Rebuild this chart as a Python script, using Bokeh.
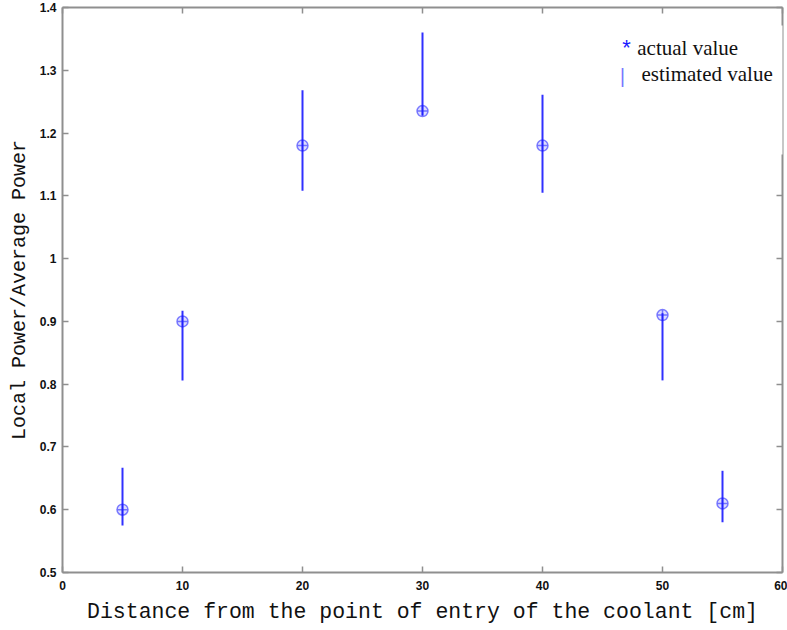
from bokeh.plotting import figure
from bokeh.models import LinearAxis, FixedTicker, Label, Range1d, CustomLabelingPolicy
from bokeh.embed import file_html
from bokeh.resources import INLINE

# ---- data ----
positions = [5, 10, 20, 30, 40, 50, 55]
actual = [0.60, 0.90, 1.18, 1.235, 1.18, 0.91, 0.61]
est_low = [0.575, 0.806, 1.108, 1.228, 1.105, 0.806, 0.58]
est_high = [0.667, 0.917, 1.268, 1.36, 1.261, 0.913, 0.662]

x_ticks = [0, 10, 20, 30, 40, 50, 60]
y_ticks = [0.5, 0.6, 0.7, 0.8, 0.9, 1.0, 1.1, 1.2, 1.3, 1.4]
y_tick_labels = ["0.5", "0.6", "0.7", "0.8", "0.9", "1", "1.1", "1.2", "1.3", "1.4"]
legend_labels = ["actual value", "estimated value"]

AX = "#8f8f8f"
BLUE = "#1a1aff"

p = figure(width=787, height=630, x_range=Range1d(0, 60), y_range=Range1d(0.5, 1.4),
           output_backend="svg", toolbar_location=None,
           min_border_left=62, min_border_right=5, min_border_top=7, min_border_bottom=58)
p.outline_line_color = None
p.xgrid.visible = False
p.ygrid.visible = False
p.background_fill_color = "white"

no_labels = CustomLabelingPolicy(code="return new indices.constructor(indices.size, 0)")


def style(ax, ticks, labels=True):
    ax.ticker = FixedTicker(ticks=ticks)
    ax.axis_line_color = AX
    ax.axis_line_width = 2
    ax.major_tick_line_color = AX
    ax.major_tick_line_width = 1.5
    ax.major_tick_in = 6
    ax.major_tick_out = 0
    ax.minor_tick_line_color = None
    if labels:
        ax.major_label_text_font = "Liberation Sans"
        ax.major_label_text_font_style = "bold"
        ax.major_label_text_font_size = "12px"
        ax.major_label_text_color = "#111111"
        ax.axis_label_text_font = "Liberation Mono"
        ax.axis_label_text_font_style = "normal"
        ax.axis_label_text_color = "#111111"
    else:
        ax.major_label_policy = no_labels
        ax.major_label_text_font_size = "0px"
        ax.major_label_standoff = 0


style(p.xaxis[0], x_ticks)
p.xaxis[0].axis_label = "Distance from the point of entry of the coolant [cm]"
p.xaxis[0].axis_label_text_font_size = "21.5px"
p.xaxis[0].major_label_standoff = 8
p.xaxis[0].axis_label_standoff = 7

style(p.yaxis[0], y_ticks)
p.yaxis[0].major_label_overrides = {t: s for t, s in zip(y_ticks, y_tick_labels)}
p.yaxis[0].axis_label = "Local Power/Average Power"
p.yaxis[0].axis_label_text_font_size = "20px"
p.yaxis[0].major_label_standoff = 6
p.yaxis[0].axis_label_standoff = 6

top = LinearAxis()
style(top, x_ticks, labels=False)
p.add_layout(top, "above")

right = LinearAxis()
style(right, y_ticks, labels=False)
p.add_layout(right, "right")

# estimated value bars
p.segment(x0=positions, y0=est_low, x1=positions, y1=est_high,
          line_color=BLUE, line_width=2, line_alpha=0.9)

# actual value markers
p.scatter(positions, actual, marker="circle_cross", size=11,
          line_color=BLUE, line_alpha=0.55, line_width=1.5,
          fill_color=BLUE, fill_alpha=0.15)

# legend (text); the white box of the second entry hides the frame behind the legend
p.add_layout(Label(x=48.25, y=1.3713, text=legend_labels[1], text_font="Liberation Serif",
                   text_font_size="21px", text_color="#111111",
                   text_baseline="top", background_fill_color="white",
                   padding=dict(top=36, right=14, bottom=69, left=0)))
p.add_layout(Label(x=47.0, y=1.336, text="*", text_font="Liberation Sans",
                   text_font_size="22px", text_color=BLUE,
                   text_align="center", text_baseline="middle"))
p.add_layout(Label(x=47.9, y=1.336, text=legend_labels[0], text_font="Liberation Serif",
                   text_font_size="21px", text_color="#111111",
                   text_baseline="middle"))
p.add_layout(Label(x=46.67, y=1.292, text="|", text_font="Liberation Sans",
                   text_font_size="21px", text_color=BLUE, text_alpha=0.6,
                   text_align="center", text_baseline="middle"))

open("out.html", "w").write(file_html(p, INLINE))
